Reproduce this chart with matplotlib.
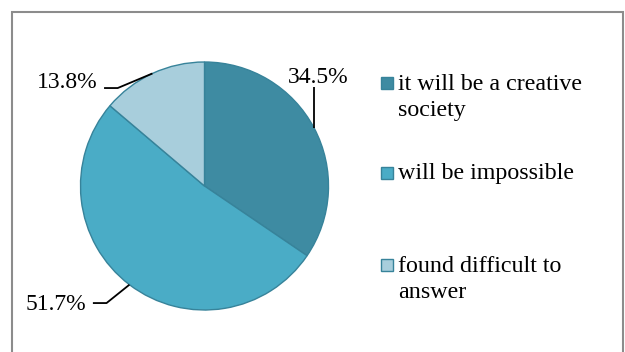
import numpy as np
import matplotlib
matplotlib.use("Agg")
import matplotlib.pyplot as plt
from matplotlib.patches import Rectangle

categories = ["it will be a creative\nsociety", "will be impossible", "found difficult to\nanswer"]
values = [34.5, 51.7, 13.8]
pct_labels = ["34.5%", "51.7%", "13.8%"]
colors = ["#3E8BA2", "#4AACC6", "#A8CEDC"]
edge = "#37839A"

W, H = 625, 352
fig = plt.figure(figsize=(W / 100, H / 100), dpi=100)
plt.rcParams['font.family'] = ['Liberation Serif', 'DejaVu Serif']

# outer frame
fig.patches.append(Rectangle((12 / W, -0.1), (623 - 12) / W, (H - 12) / H + 0.1,
                             transform=fig.transFigure, fill=False,
                             edgecolor="#8C8C8C", linewidth=1.5))

cx, cy, r = 204.5, 186, 124
ax = fig.add_axes([(cx - r) / W, (H - cy - r) / H, 2 * r / W, 2 * r / H])
wedges, _ = ax.pie(values, colors=colors, startangle=90, counterclock=False,
                   wedgeprops=dict(edgecolor=edge, linewidth=1.0))
ax.set_xlim(-1, 1)
ax.set_ylim(-1, 1)
ax.axis('off')

fs = 17
# leader lines + labels
for w, lab in zip(wedges, pct_labels):
    mid = np.deg2rad((w.theta1 + w.theta2) / 2)
    px, py = np.cos(mid), np.sin(mid)
    if lab == "34.5%":
        xs, ys = [px, px], [py, 0.80]
        ax.text(px + 0.035, 0.83, lab, ha='center', va='baseline', fontsize=fs)
    elif lab == "13.8%":
        xs, ys = [px, -0.70, -0.81], [py, 0.79, 0.79]
        ax.text(-0.864, 0.79, lab, ha='right', va='baseline', fontsize=fs)
    else:
        xs, ys = [px, -0.79, -0.90], [py, -0.944, -0.944]
        ax.text(-0.955, -1.0, lab, ha='right', va='baseline', fontsize=fs)
    ax.plot(xs, ys, color='black', linewidth=1.3, clip_on=False,
            solid_capstyle='butt')

# legend
rows_y = [83, 173, 265]
sq = 12
line_h = 26.5
for c, lab, y in zip(colors, categories, rows_y):
    fig.patches.append(Rectangle((381 / W, (H - y - sq / 2) / H), sq / W, sq / H,
                                 transform=fig.transFigure, facecolor=c,
                                 edgecolor=edge, linewidth=1.0))
    for i, line in enumerate(lab.split("\n")):
        base = y + 6.5 + i * line_h
        fig.text(398 / W, (H - base) / H, line, ha='left', va='baseline',
                 fontsize=17.3, transform=fig.transFigure)

fig.savefig("out.png", dpi=100)
